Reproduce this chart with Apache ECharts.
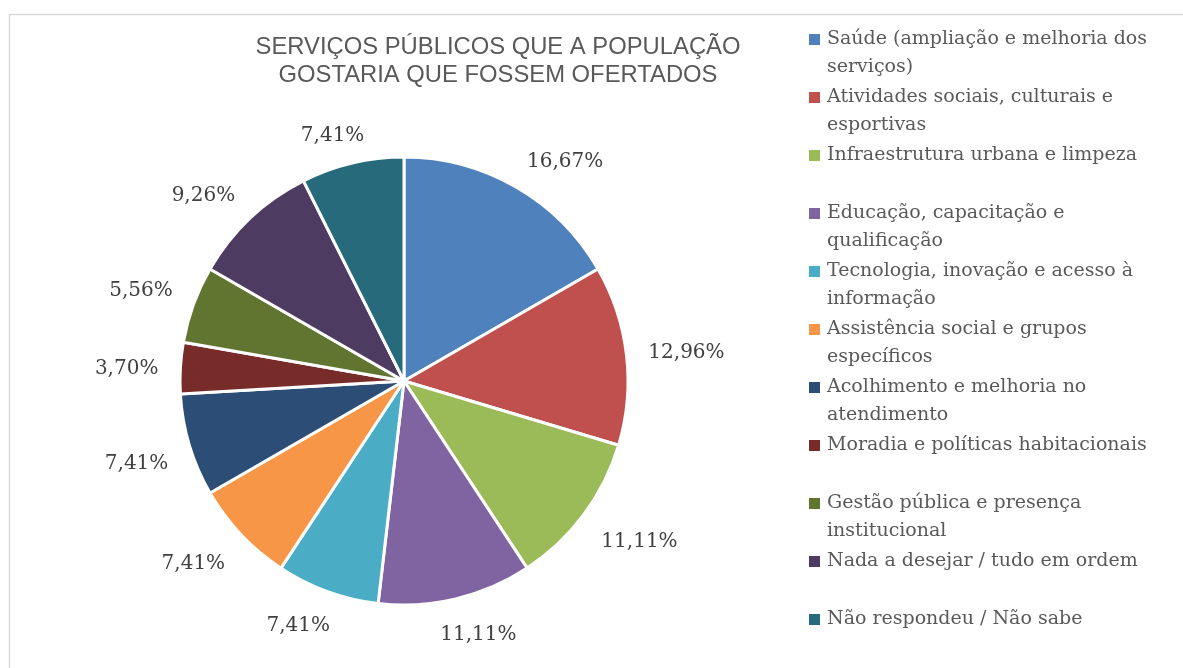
<!DOCTYPE html>
<html>
<head>
<meta charset="utf-8">
<script src="https://cdn.jsdelivr.net/npm/echarts@6/dist/echarts.min.js"></script>
<style>
  html, body { margin: 0; padding: 0; background: #fff; }
  #chart { width: 1183px; height: 668px; }
</style>
</head>
<body>
<div id="chart"></div>
<script>
// categorias (ordem horaria a partir do topo)
const categories = [
  "Saúde (ampliação e melhoria dos serviços)",
  "Atividades sociais, culturais e esportivas",
  "Infraestrutura urbana e limpeza",
  "Educação, capacitação e qualificação",
  "Tecnologia, inovação e acesso à informação",
  "Assistência social e grupos específicos",
  "Acolhimento e melhoria no atendimento",
  "Moradia e políticas habitacionais",
  "Gestão pública e presença institucional",
  "Nada a desejar / tudo em ordem",
  "Não respondeu / Não sabe"
];
// texto da legenda como aparece quebrado
const legendLines = [
  ["Saúde (ampliação e melhoria dos", "serviços)"],
  ["Atividades sociais, culturais e", "esportivas"],
  ["Infraestrutura urbana e limpeza", ""],
  ["Educação, capacitação e", "qualificação"],
  ["Tecnologia, inovação e acesso à", "informação"],
  ["Assistência social e grupos", "específicos"],
  ["Acolhimento e melhoria no", "atendimento"],
  ["Moradia e políticas habitacionais", ""],
  ["Gestão pública e presença", "institucional"],
  ["Nada a desejar / tudo em ordem", ""],
  ["Não respondeu / Não sabe", ""]
];
const percents = [16.67, 12.96, 11.11, 11.11, 7.41, 7.41, 7.41, 3.70, 5.56, 9.26, 7.41];
const colors = ["#4F81BD", "#C0504D", "#9BBB59", "#8064A2", "#4BACC6", "#F79646",
                "#2C4D75", "#772C2A", "#5F7530", "#4D3B62", "#276A7C"];

const chart = echarts.init(document.getElementById('chart'));

const pieData = categories.map((c, i) => ({ name: c, value: percents[i] }));

const CX = 404, CY = 381, R = 224;

// estilos rich da legenda: um quadradinho colorido por item
const rich = {
  t: { fontFamily: 'DejaVu Serif', fontSize: 19, color: '#595959', lineHeight: 28 },
  gap: { width: 7, lineHeight: 28 },
  ind: { width: 18, lineHeight: 28 }
};
colors.forEach((c, i) => {
  rich['c' + i] = { width: 11, height: 11, backgroundColor: c, lineHeight: 28 };
});

const fmtPct = v => v.toFixed(2).replace('.', ',') + '%';
const clamp = v => Math.max(-1, Math.min(1, v));

// rotulos estilo Excel: caixa encostada no raio medio, fora da pizza
function placeLabel(params) {
  const lr = params.labelRect;
  const mx = lr.x + lr.width / 2 - CX;
  const my = lr.y + lr.height / 2 - CY;
  const d = Math.sqrt(mx * mx + my * my) || 1;
  const ux = mx / d, uy = my / d;
  const px = CX + ux * (R + 22);
  const py = CY + uy * (R + 22);
  return {
    x: px + clamp(ux * 2) * lr.width / 2,
    y: py + clamp(uy * 3) * lr.height / 2 + 4
  };
}

const option = {
  color: colors,
  animation: false,
  title: {
    text: 'SERVIÇOS PÚBLICOS QUE A POPULAÇÃO\nGOSTARIA QUE FOSSEM OFERTADOS',
    left: 498,
    top: 33,
    padding: 0,
    textAlign: 'center',
    textStyle: {
      fontFamily: 'Liberation Sans',
      fontSize: 23.8,
      fontWeight: 'normal',
      color: '#595959',
      lineHeight: 28
    }
  },
  legend: {
    orient: 'vertical',
    left: 803,
    top: 30,
    height: 660,
    padding: 0,
    itemWidth: 0,
    itemHeight: 0,
    itemGap: 11,
    data: categories,
    selectedMode: false,
    formatter: name => {
      const i = categories.indexOf(name);
      const l = legendLines[i];
      return '{c' + i + '|}{gap|}{t|' + l[0] + '}\n{ind|}{t|' + (l[1] || ' ') + '}';
    },
    textStyle: { rich: rich }
  },
  graphic: [{
    type: 'rect',
    left: 7,
    top: 12,
    shape: { width: 1200, height: 700 },
    style: { fill: 'none', stroke: '#D9D9D9', lineWidth: 1.5 },
    silent: true
  }],
  series: [
    {
      name: 'servicos',
      type: 'pie',
      center: [CX, CY],
      radius: R,
      startAngle: 90,
      clockwise: true,
      label: { show: false },
      labelLine: { show: false },
      itemStyle: { borderColor: '#fff', borderWidth: 3 },
      emphasis: { disabled: true },
      data: pieData
    },
    {
      // anel invisivel so para dar a direcao dos rotulos
      name: 'rotulos',
      type: 'pie',
      center: [CX, CY],
      radius: [R, 332],
      startAngle: 90,
      clockwise: true,
      silent: true,
      legendHoverLink: false,
      itemStyle: { color: 'rgba(0,0,0,0)', borderWidth: 0 },
      label: {
        show: true,
        position: 'inside',
        formatter: p => fmtPct(p.value),
        fontFamily: 'DejaVu Serif',
        fontSize: 20,
        color: '#404040'
      },
      labelLine: { show: false },
      labelLayout: placeLabel,
      emphasis: { disabled: true },
      data: pieData
    }
  ]
};

chart.setOption(option);
</script>
</body>
</html>
